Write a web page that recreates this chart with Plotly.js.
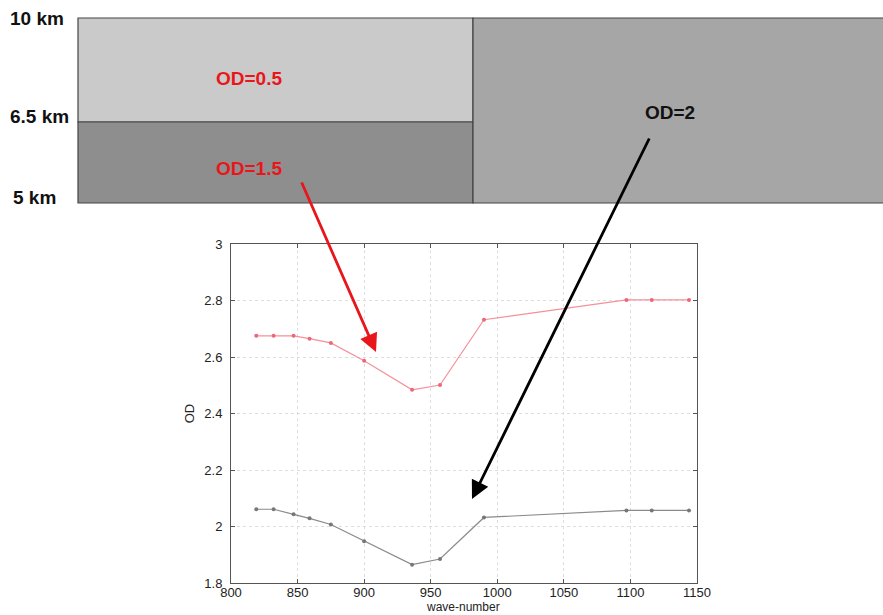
<!DOCTYPE html>
<html>
<head>
<meta charset="utf-8">
<script src="https://cdn.plot.ly/plotly-3.0.1.min.js"></script>
<style>html,body{margin:0;padding:0;background:#fff;}#chart{width:883px;height:615px;}</style>
</head>
<body>
<div id="chart"></div>
<script>
// Data
const waveNumber = [819, 832, 847, 859, 875, 900, 936, 957, 990, 1097, 1116, 1144];
const odRed  = [2.675, 2.675, 2.675, 2.665, 2.65, 2.587, 2.484, 2.501, 2.732, 2.802, 2.802, 2.802];
const odGray = [2.061, 2.061, 2.043, 2.029, 2.007, 1.948, 1.865, 1.885, 2.032, 2.057, 2.057, 2.057];
const xTicks = [800, 850, 900, 950, 1000, 1050, 1100, 1150];
const yTicks = [1.8, 2, 2.2, 2.4, 2.6, 2.8, 3];
const layerLabels = ["10 km", "6.5 km", "5 km"];
const odLabels = ["OD=0.5", "OD=1.5", "OD=2"];
const xTitle = "wave-number";
const yTitle = "OD";

const W = 883, H = 615;
const plotL = 231, plotR = 697, plotT = 244, plotB = 583;
// pixel -> paper helpers (margins are zero, so paper = whole figure)
const px = v => v / W;
const py = v => 1 - v / H;

const traces = [
  {x: waveNumber, y: odRed, mode: 'lines+markers', type: 'scatter',
   line: {color: '#f5909a', width: 1.2}, marker: {color: '#ee6677', size: 4, symbol: 'circle'},
   hoverinfo: 'skip'},
  {x: waveNumber, y: odGray, mode: 'lines+markers', type: 'scatter',
   line: {color: '#8a8a8a', width: 1.2}, marker: {color: '#777', size: 4, symbol: 'circle'},
   hoverinfo: 'skip'}
];

const axFont = {family: 'Liberation Sans, Arial, sans-serif', size: 13, color: '#222'};
const titleFont = {family: 'Liberation Sans, Arial, sans-serif', size: 12, color: '#222'};
const border = {color: '#444', width: 1.2};
const labelFont = {family: 'Liberation Sans, Arial, sans-serif', size: 19, color: '#111', weight: 'bold'};
const redFont = Object.assign({}, labelFont, {color: '#e8161b'});

function rect(x0, x1, y0, y1, fill) {
  return {type: 'rect', xref: 'paper', yref: 'paper', x0: px(x0), x1: px(x1), y0: py(y0), y1: py(y1),
          fillcolor: fill, line: border, layer: 'above'};
}
function label(x, y, text, font, xanchor, yanchor) {
  return {xref: 'paper', yref: 'paper', x: px(x), y: py(y), xanchor: xanchor || 'center', yanchor: yanchor || 'middle',
          text: text, showarrow: false, font: font, borderpad: 0};
}
function arrow(tailX, tailY, headX, headY, color) {
  return {xref: 'paper', yref: 'paper', x: px(headX), y: py(headY), ax: tailX - headX, ay: tailY - headY,
          text: '', showarrow: true, arrowhead: 2, arrowsize: 1.3, arrowwidth: 2.8, arrowcolor: color};
}

const layout = {
  width: W, height: H,
  margin: {l: 0, r: 0, t: 0, b: 0},
  paper_bgcolor: '#fff', plot_bgcolor: '#fff',
  showlegend: false,
  xaxis: {
    domain: [plotL / W, plotR / W],
    range: [800, 1150], tickvals: xTicks, ticks: 'inside', ticklen: 4,
    tickcolor: '#555', mirror: 'ticks', showline: true, linecolor: '#555', linewidth: 1,
    showgrid: true, gridcolor: '#dddddd', griddash: 'dot', zeroline: false,
    tickfont: axFont, ticklabelstandoff: -3
  },
  yaxis: {
    domain: [(H - plotB) / H, (H - plotT) / H],
    range: [1.8, 3], tickvals: yTicks, ticks: 'inside', ticklen: 4,
    tickcolor: '#555', mirror: 'ticks', showline: true, linecolor: '#555', linewidth: 1,
    showgrid: true, gridcolor: '#dddddd', griddash: 'dot', zeroline: false,
    tickfont: axFont, ticklabelstandoff: 5,
    title: {text: yTitle, font: axFont, standoff: 6}
  },
  shapes: [
    rect(78, 473, 18, 122, '#cacaca'),
    rect(78, 473, 122, 203, '#8e8e8e'),
    rect(473, 884, 18, 203, '#a6a6a6')
  ],
  annotations: [
    label(9, 18, layerLabels[0], labelFont, 'left'),
    label(9, 117, layerLabels[1], labelFont, 'left'),
    label(12, 197, layerLabels[2], labelFont, 'left'),
    label(249, 78, odLabels[0], redFont),
    label(249, 168, odLabels[1], redFont),
    label(670, 112, odLabels[2], labelFont),
    label(463, 615, xTitle, titleFont, 'center', 'bottom'),
    arrow(301, 181, 376, 352, '#e8161b'),
    arrow(650, 137, 472, 499, '#000')
  ]
};

Plotly.newPlot('chart', traces, layout, {displayModeBar: false, staticPlot: true});
</script>
</body>
</html>
